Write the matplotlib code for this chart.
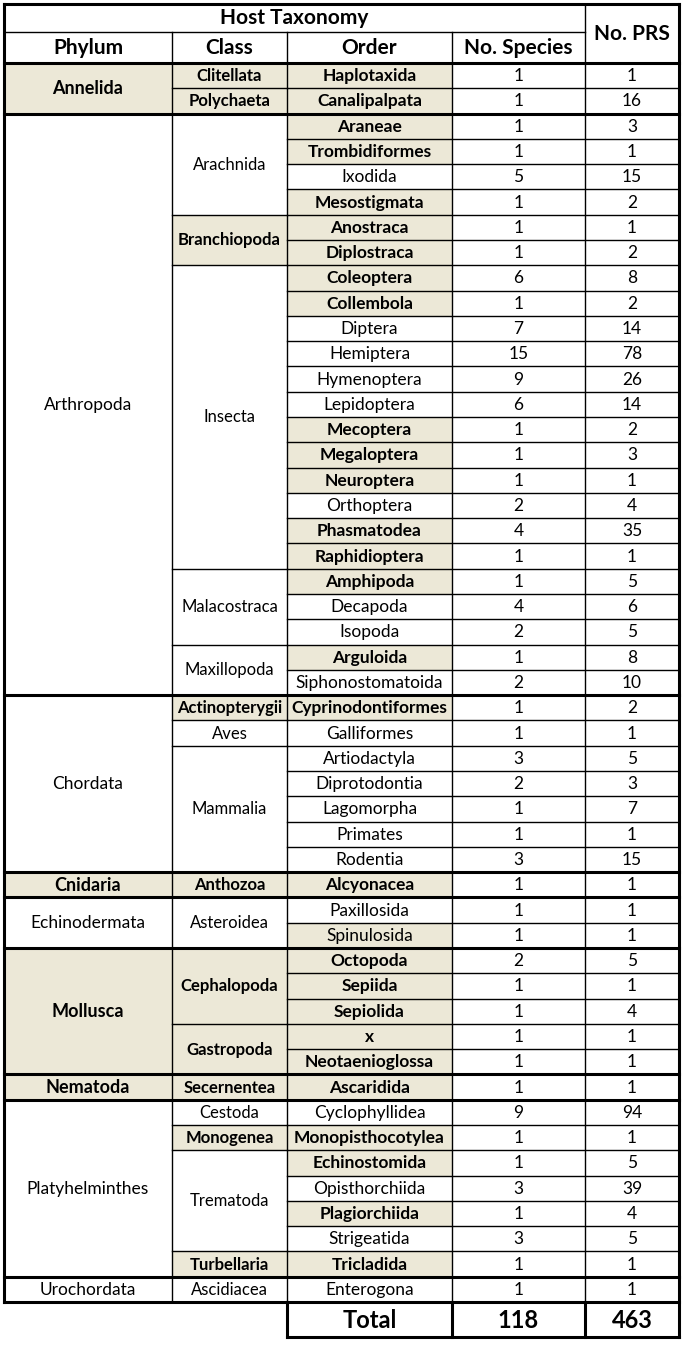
"""Host taxonomy table of PRS counts, redrawn with matplotlib."""
import matplotlib.pyplot as plt
from matplotlib.patches import Rectangle

plt.rcParams["font.family"] = ["Lato", "DejaVu Sans"]

# ---- data -----------------------------------------------------------------
phyla = ["Annelida", "Arthropoda", "Chordata", "Cnidaria", "Echinodermata",
         "Mollusca", "Nematoda", "Platyhelminthes", "Urochordata"]
phylum_rows = [2, 23, 7, 1, 2, 5, 1, 7, 1]
phylum_bold = {"Annelida", "Cnidaria", "Mollusca", "Nematoda"}

classes = ["Clitellata", "Polychaeta", "Arachnida", "Branchiopoda", "Insecta",
           "Malacostraca", "Maxillopoda", "Actinopterygii", "Aves", "Mammalia",
           "Anthozoa", "Asteroidea", "Cephalopoda", "Gastropoda", "Secernentea",
           "Cestoda", "Monogenea", "Trematoda", "Turbellaria", "Ascidiacea"]
class_rows = [1, 1, 4, 2, 12, 3, 2, 1, 1, 5, 1, 2, 3, 2, 1, 1, 1, 4, 1, 1]
class_bold = {"Clitellata", "Polychaeta", "Branchiopoda", "Actinopterygii",
              "Anthozoa", "Cephalopoda", "Gastropoda", "Secernentea",
              "Monogenea", "Turbellaria"}

orders = ["Haplotaxida", "Canalipalpata",
          "Araneae", "Trombidiformes", "Ixodida", "Mesostigmata",
          "Anostraca", "Diplostraca",
          "Coleoptera", "Collembola", "Diptera", "Hemiptera", "Hymenoptera",
          "Lepidoptera", "Mecoptera", "Megaloptera", "Neuroptera", "Orthoptera",
          "Phasmatodea", "Raphidioptera",
          "Amphipoda", "Decapoda", "Isopoda",
          "Arguloida", "Siphonostomatoida",
          "Cyprinodontiformes", "Galliformes",
          "Artiodactyla", "Diprotodontia", "Lagomorpha", "Primates", "Rodentia",
          "Alcyonacea", "Paxillosida", "Spinulosida",
          "Octopoda", "Sepiida", "Sepiolida", "x", "Neotaenioglossa",
          "Ascaridida", "Cyclophyllidea", "Monopisthocotylea",
          "Echinostomida", "Opisthorchiida", "Plagiorchiida", "Strigeatida",
          "Tricladida", "Enterogona"]
n_species = [1, 1, 1, 1, 5, 1, 1, 1, 6, 1, 7, 15, 9, 6, 1, 1, 1, 2, 4, 1,
             1, 4, 2, 1, 2, 1, 1, 3, 2, 1, 1, 3, 1, 1, 1, 2, 1, 1, 1, 1,
             1, 9, 1, 1, 3, 1, 3, 1, 1]
n_prs = [1, 16, 3, 1, 15, 2, 1, 2, 8, 2, 14, 78, 26, 14, 2, 3, 1, 4, 35, 1,
         5, 6, 5, 8, 10, 2, 1, 5, 3, 7, 1, 15, 1, 1, 1, 5, 1, 4, 1, 1,
         1, 94, 1, 5, 39, 4, 5, 1, 1]
order_plain = {"Ixodida", "Diptera", "Hemiptera", "Hymenoptera", "Lepidoptera",
               "Orthoptera", "Decapoda", "Isopoda", "Siphonostomatoida",
               "Galliformes", "Artiodactyla", "Diprotodontia", "Lagomorpha",
               "Primates", "Rodentia", "Paxillosida", "Spinulosida",
               "Cyclophyllidea", "Opisthorchiida", "Strigeatida", "Enterogona"}
order_shaded_plain = {"Spinulosida"}

headers = ["Phylum", "Class", "Order", "No. Species"]

# ---- layout (pixels) ------------------------------------------------------
W, H = 685, 1345
col_x = [4, 172, 287, 452, 585, 679]
top, mid, body_top, body_bot, total_bot = 4, 32, 63, 1302, 1337
rh = (body_bot - body_top) / len(orders)
shade = "#ECE8D7"
thin, thick = 1.0, 2.2


def row_y(i):
    return body_top + i * rh


fig = plt.figure(figsize=(W / 100, H / 100), dpi=100)
ax = fig.add_axes([0, 0, 1, 1])
ax.set_xlim(0, W)
ax.set_ylim(H, 0)
ax.axis("off")


def cell(x0, x1, y0, y1, text, bold=False, fill=None, size=10.5):
    if fill:
        ax.add_patch(Rectangle((x0, y0), x1 - x0, y1 - y0, fc=fill, ec="none", zorder=1))
    ax.text((x0 + x1) / 2, (y0 + y1) / 2 + 0.5, text, ha="center", va="center",
            fontsize=size, fontweight="bold" if bold else "normal", zorder=3)


def hline(y, x0, x1, lw):
    ax.plot([x0, x1], [y, y], color="black", lw=lw, zorder=4, solid_capstyle="projecting")


def vline(x, y0, y1, lw):
    ax.plot([x, x], [y0, y1], color="black", lw=lw, zorder=4, solid_capstyle="projecting")


# header
cell(col_x[0], col_x[4], top, mid, "Host Taxonomy", bold=True, size=15)
cell(col_x[4], col_x[5], top, body_top, "No. PRS", bold=True, size=15)
for j, name in enumerate(headers):
    cell(col_x[j], col_x[j + 1], mid, body_top, name, bold=True, size=15)
hline(mid, col_x[0], col_x[4], thin)
for x in col_x[1:4]:
    vline(x, mid, body_top, thin)

# phylum column
start = 0
for name, n in zip(phyla, phylum_rows):
    y0, y1 = row_y(start), row_y(start + n)
    b = name in phylum_bold
    cell(col_x[0], col_x[1], y0, y1, name, bold=b, fill=shade if b else None,
         size=13 if b else 12.5)
    start += n

# class column
start = 0
for name, n in zip(classes, class_rows):
    y0, y1 = row_y(start), row_y(start + n)
    b = name in class_bold
    cell(col_x[1], col_x[2], y0, y1, name, bold=b, fill=shade if b else None, size=12)
    hline(y0, col_x[1], col_x[2], thin)
    start += n

# order + counts
for i, (name, s, p) in enumerate(zip(orders, n_species, n_prs)):
    y0, y1 = row_y(i), row_y(i + 1)
    b = name not in order_plain
    fill = shade if (b or name in order_shaded_plain) else None
    cell(col_x[2], col_x[3], y0, y1, name, bold=b, fill=fill, size=12.5)
    cell(col_x[3], col_x[4], y0, y1, str(s), size=12.5)
    cell(col_x[4], col_x[5], y0, y1, str(p), size=12.5)
    hline(y0, col_x[2], col_x[5], thin)

# phylum group separators on top of thin lines
start = 0
for n in phylum_rows:
    hline(row_y(start), col_x[0], col_x[5], thick)
    start += n
hline(body_bot, col_x[0], col_x[5], thick)

# vertical rules
for x in col_x[1:5]:
    vline(x, body_top, body_bot, thin)
vline(col_x[4], top, body_top, thin)
vline(col_x[0], top, body_bot, thick)
vline(col_x[5], top, total_bot, thick)
hline(top, col_x[0], col_x[5], thick)

# total row
cell(col_x[2], col_x[3], body_bot, total_bot, "Total", bold=True, size=17)
cell(col_x[3], col_x[4], body_bot, total_bot, str(sum(n_species)), bold=True, size=17)
cell(col_x[4], col_x[5], body_bot, total_bot, str(sum(n_prs)), bold=True, size=17)
for x in col_x[2:5]:
    vline(x, body_bot, total_bot, thick)
hline(total_bot, col_x[2], col_x[5], thick)

fig.savefig("out.png", dpi=100)
